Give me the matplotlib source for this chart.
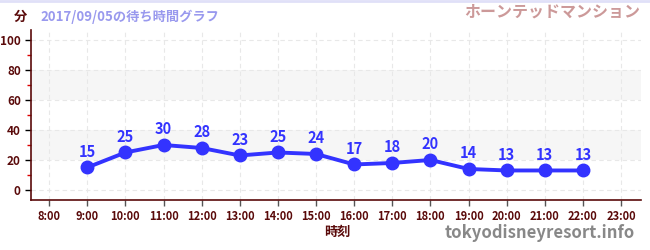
import matplotlib
matplotlib.use("Agg")
import matplotlib.pyplot as plt
from matplotlib.ticker import MultipleLocator

plt.rcParams['font.family'] = ['Noto Sans CJK JP', 'DejaVu Sans']

hours = [9, 10, 11, 12, 13, 14, 15, 16, 17, 18, 19, 20, 21, 22]
waits = [15, 25, 30, 28, 23, 25, 24, 17, 18, 20, 14, 13, 13, 13]
tick_hours = list(range(8, 24))
tick_labels = [f"{h}:00" for h in tick_hours]
y_ticks = [0, 20, 40, 60, 80, 100]

title = "2017/09/05の待ち時間グラフ"
attraction = "ホーンテッドマンション"

axis_col = "#5a0a0a"
line_col = "#3333ff"

fig = plt.figure(figsize=(6.5, 2.5), dpi=100)
ax = fig.add_axes([0.048, 0.2, 0.938, 0.68])

ax.set_xlim(7.53, 23.52)
ax.set_ylim(-6.7, 106.7)

for lo, hi in [(20, 40), (60, 80)]:
    ax.axhspan(lo, hi, color="#f6f6f6", zorder=0, lw=0)

ax.set_xticks(tick_hours)
ax.set_xticklabels(tick_labels)
ax.set_yticks(y_ticks)
ax.yaxis.set_minor_locator(MultipleLocator(10))
ax.grid(True, which="major", color="#e8e8e8", linestyle=(0, (4, 3)), lw=0.8, zorder=0)

ax.plot(hours, waits, color=line_col, lw=2.8, marker="o", ms=9, zorder=3)
for h, w in zip(hours, waits):
    ax.annotate(str(w), (h, w), xytext=(0, 5.5), textcoords="offset points",
                ha="center", va="bottom", color=line_col, fontsize=10.5, fontweight="bold")

for s in ["top", "right"]:
    ax.spines[s].set_visible(False)
for s in ["left", "bottom"]:
    ax.spines[s].set_color(axis_col)
    ax.spines[s].set_linewidth(1.2)

ax.tick_params(axis="x", colors="#555555", labelcolor=axis_col, labelsize=8, length=4, width=1)
ax.tick_params(axis="y", colors="black", labelcolor=axis_col, labelsize=8.5, length=4, width=1)
ax.tick_params(axis="y", which="minor", colors="#dd0000", length=3, width=1)
for lab in ax.get_xticklabels() + ax.get_yticklabels():
    lab.set_fontweight("bold")

fig.text(20/650, 1-17/250, "分", color=axis_col, fontsize=9.5, fontweight="bold", ha="center", va="center")
fig.text(40/650, 1-17/250, title, color="#9999ee", fontsize=9.5, fontweight="bold", ha="left", va="center")
fig.text(640/650, 1-12/250, attraction, color="#cc9999", fontsize=11.5, fontweight="bold", ha="right", va="center")
fig.text(337/650, 1-232/250, "時刻", color=axis_col, fontsize=9.5, fontweight="bold", ha="center", va="center")
fig.text(635/650, 1-233/250, "tokyodisneyresort.info", color="#888888", fontsize=12, fontweight="bold", ha="right", va="center")

fig.add_artist(plt.Line2D([0, 1], [0.997, 0.997], color="#e0e0f8", lw=2, transform=fig.transFigure))

fig.savefig("out.png", dpi=100)
